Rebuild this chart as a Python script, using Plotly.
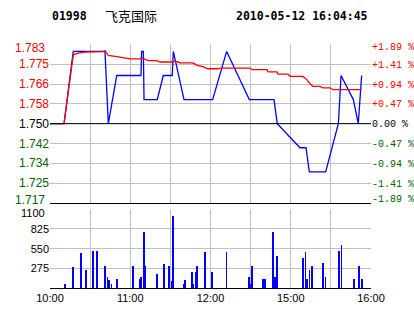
import plotly.graph_objects as go

# ---------------- data ----------------
stock_code = "01998"
stock_name = "飞克国际"
timestamp = "2010-05-12 16:04:45"
prev_close = 1.750

# minutes since 10:00 (trading minutes, lunch break removed)
price_t = [0, 10.5, 17.4, 41.1, 43.6, 49.9, 68.0, 68.5, 69.8, 70.3, 80.2, 84.7, 91.4, 92.2,
           100.2, 121.6, 132.1, 149.0, 167.5, 169.9, 186.9, 191.4, 193.9, 206.1, 215.6,
           217.6, 226.8, 230.5, 233.0]
price_v = [1.75, 1.75, 1.78, 1.78, 1.75, 1.77, 1.77, 1.78, 1.78, 1.76, 1.76, 1.77, 1.77, 1.78,
           1.76, 1.76, 1.78, 1.76, 1.76, 1.75, 1.74, 1.74, 1.73, 1.73, 1.75,
           1.77, 1.76, 1.75, 1.77]

avg_t = [0, 10.5, 17.4, 21.0, 26.2, 39.9, 41.1, 43.6, 52.3, 59.8, 67.3, 68.6, 73.3, 80.0,
         82.2, 91.2, 93.5, 97.2, 106.9, 109.9, 114.4, 118.1, 125.6, 127.1, 149.5, 151.0,
         162.2, 163.0, 169.7, 170.5, 178.0, 179.4, 189.2, 192.1, 194.4, 196.6, 201.9,
         204.1, 209.3, 211.6, 233.0]
avg_v = [1.750, 1.750, 1.7786, 1.7793, 1.7797, 1.7799, 1.7803, 1.7783, 1.7776, 1.7769, 1.7769,
         1.7773, 1.7762, 1.7762, 1.7756, 1.7756, 1.7760, 1.7752, 1.7752, 1.7742, 1.7737,
         1.7728, 1.7728, 1.7731, 1.7731, 1.7724, 1.7724, 1.7715, 1.7715, 1.7706, 1.7706,
         1.7696, 1.7696, 1.7683, 1.7665, 1.7655, 1.7655, 1.7649, 1.7649, 1.7641, 1.7641]

vol_t = [11, 17, 23, 27, 32, 35, 41, 43, 44, 46, 50, 62, 67, 68, 70, 71, 80, 85, 89, 91,
         92, 100, 101, 106, 107, 109, 110, 116, 121, 132, 149, 150, 151, 159, 161, 167, 168,
         169, 170, 189, 191, 192, 194, 196, 204, 206, 216, 218, 227, 231, 233]
vol_v = [46, 296, 491, 241, 509, 509, 310, 148, 102, 46, 116, 310, 116, 148, 774, 310, 185,
         338, 310, 88, 1006, 46, 102, 213, 46, 213, 310, 505, 213, 505, 148, 46, 310, 116,
         116, 774, 148, 46, 450, 412, 505, 116, 245, 310, 352, 148, 509, 603, 116, 310, 116]

pct_ticks = [-1.89, -1.41, -0.94, -0.47, 0.00, 0.47, 0.94, 1.41, 1.89]
price_tick_labels = ["1.717", "1.725", "1.734", "1.742", "1.750", "1.758", "1.766", "1.775", "1.783"]
pct_tick_labels = ["-1.89 %", "-1.41 %", "-0.94 %", "-0.47 %", "0.00 %",
                   "+0.47 %", "+0.94 %", "+1.41 %", "+1.89 %"]
time_ticks = [0, 30, 60, 90, 120, 150, 180, 210, 240]
time_labels = ["10:00", "", "11:00", "", "12:00", "", "15:00", "", "16:00"]
vol_ticks = [275, 550, 825, 1100]
vol_tick_labels = ["275", "550", "825", "1100"]

# ---------------- styling ----------------
RED = "#ff0000"
GREEN = "#006400"
BLUE = "#0000ff"
GRID = "#c0c0c0"
LEFT_FONT = dict(family="Liberation Sans", size=12)
RIGHT_FONT = dict(family="Liberation Mono", size=10)
EDGE_SHIFT = 3.5

price_tickvals = [prev_close * (1 + p / 100) for p in pct_ticks]


def colour_for(p):
    if p > 0:
        return RED
    if p < 0:
        return GREEN
    return "#000000"


n = len(pct_ticks)
# edge labels are drawn as annotations (nudged inside the panel), inner ones as ticks
left_text = [("" if i in (0, n - 1) else f"<span style='color:{colour_for(p)}'>{lab}</span>")
             for i, (p, lab) in enumerate(zip(pct_ticks, price_tick_labels))]
right_text = [("" if i in (0, n - 1) else f"<span style='color:{colour_for(p)}'>{lab}</span>")
              for i, (p, lab) in enumerate(zip(pct_ticks, pct_tick_labels))]
vol_text = [("" if i == len(vol_ticks) - 1 else lab) for i, lab in enumerate(vol_tick_labels)]

annotations = [
    dict(text=f"<b>{stock_code}</b>", xref="paper", yref="paper", x=0, y=1.113,
         xanchor="left", yanchor="middle", showarrow=False,
         font=dict(family="DejaVu Sans Mono", size=11.5, color="black")),
    dict(text=stock_name, xref="paper", yref="paper", x=0.165, y=1.116,
         xanchor="left", yanchor="middle", showarrow=False,
         font=dict(family="Noto Sans CJK SC", size=13, color="black")),
    dict(text=f"<b>{timestamp}</b>", xref="paper", yref="paper", x=0.997, y=1.113,
         xanchor="right", yanchor="middle", showarrow=False,
         font=dict(family="DejaVu Sans Mono", size=11.5, color="black")),
]
for i in (0, n - 1):
    shift = EDGE_SHIFT if i == 0 else -EDGE_SHIFT
    annotations.append(dict(text=price_tick_labels[i], xref="paper", yref="y", x=0,
                            y=price_tickvals[i], xanchor="right", yanchor="middle",
                            xshift=-3, yshift=shift, showarrow=False,
                            font=dict(color=colour_for(pct_ticks[i]), **LEFT_FONT)))
    annotations.append(dict(text=pct_tick_labels[i], xref="paper", yref="y", x=1,
                            y=price_tickvals[i], xanchor="left", yanchor="middle",
                            xshift=-1, yshift=shift, showarrow=False,
                            font=dict(color=colour_for(pct_ticks[i]), **RIGHT_FONT)))
annotations.append(dict(text=vol_tick_labels[-1], xref="paper", yref="y3", x=0,
                        y=vol_ticks[-1], xanchor="right", yanchor="middle",
                        xshift=-3, yshift=-EDGE_SHIFT, showarrow=False,
                        font=dict(family="Liberation Sans", size=11, color="black")))

fig = go.Figure()
fig.add_trace(go.Scatter(x=price_t, y=price_v, mode="lines",
                         line=dict(color=BLUE, width=1.3), xaxis="x", yaxis="y",
                         showlegend=False, hoverinfo="skip"))
fig.add_trace(go.Scatter(x=avg_t, y=avg_v, mode="lines",
                         line=dict(color=RED, width=1.3), xaxis="x", yaxis="y2",
                         showlegend=False, hoverinfo="skip"))
fig.add_trace(go.Bar(x=vol_t, y=vol_v, width=0.6, marker=dict(color=BLUE, line=dict(width=0)),
                     xaxis="x2", yaxis="y3", showlegend=False, hoverinfo="skip"))

fig.add_shape(type="line", xref="x", yref="y", x0=time_ticks[0], x1=time_ticks[-1],
              y0=prev_close, y1=prev_close, line=dict(color="black", width=1))

fig.update_layout(
    width=414, height=314,
    margin=dict(l=50, r=43, t=44, b=26, autoexpand=False),
    paper_bgcolor="white", plot_bgcolor="white",
    bargap=0,
    xaxis=dict(domain=[0, 1], anchor="y", range=[time_ticks[0], time_ticks[-1]],
               tickmode="array", tickvals=time_ticks, showticklabels=False,
               showgrid=True, gridcolor=GRID, gridwidth=1, zeroline=False, automargin=False,
               showline=True, linecolor="black", linewidth=1, ticks=""),
    yaxis=dict(domain=[0.347, 1], anchor="x", range=[price_tickvals[0], price_tickvals[-1]],
               tickmode="array", tickvals=price_tickvals, ticktext=left_text,
               tickfont=LEFT_FONT, automargin=False, ticklabelstandoff=0,
               showgrid=True, gridcolor=GRID, gridwidth=1, zeroline=False, showline=False),
    yaxis2=dict(overlaying="y", side="right", anchor="x",
                range=[price_tickvals[0], price_tickvals[-1]],
                tickmode="array", tickvals=price_tickvals, ticktext=right_text,
                tickfont=RIGHT_FONT, automargin=False, ticklabelstandoff=0,
                showgrid=False, zeroline=False, showline=False),
    xaxis2=dict(domain=[0, 1], anchor="y3", range=[time_ticks[0], time_ticks[-1]],
                tickmode="array", tickvals=time_ticks, ticktext=time_labels,
                tickfont=dict(family="Liberation Sans", size=11, color="black"),
                showgrid=True, gridcolor=GRID, gridwidth=1, zeroline=False, automargin=False,
                showline=True, linecolor="black", linewidth=1, ticks=""),
    yaxis3=dict(domain=[0, 0.3225], anchor="x2", range=[0, vol_ticks[-1]],
                tickmode="array", tickvals=vol_ticks, ticktext=vol_text,
                tickfont=dict(family="Liberation Sans", size=11, color="black"),
                automargin=False, ticklabelstandoff=0,
                showgrid=True, gridcolor=GRID, gridwidth=1, zeroline=False, showline=False),
    annotations=annotations,
)

fig.write_html("out.html")
